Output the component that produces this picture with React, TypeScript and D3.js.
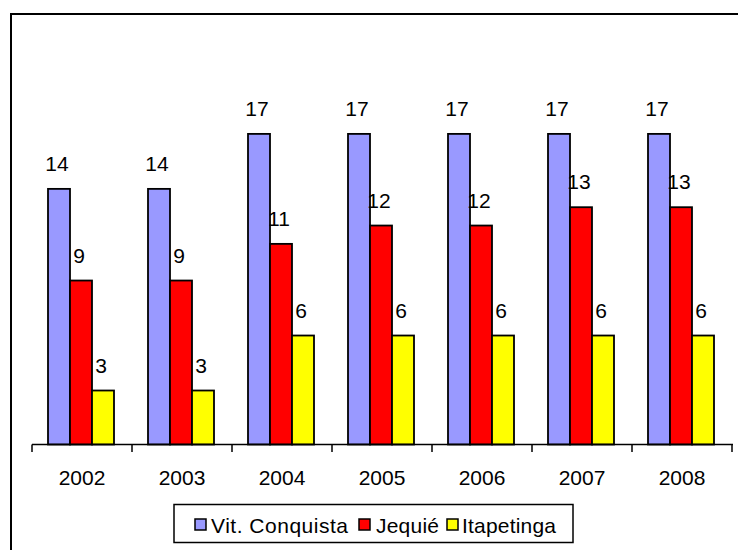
import React from "react";
import * as d3 from "d3";

const years = ["2002", "2003", "2004", "2005", "2006", "2007", "2008"];
const seriesNames = ["Vit. Conquista", "Jequié", "Itapetinga"];
const vitConquista = [14, 14, 17, 17, 17, 17, 17];
const jequie = [9, 9, 11, 12, 12, 13, 13];
const itapetinga = [3, 3, 6, 6, 6, 6, 6];
const colors = ["#9999FF", "#FF0000", "#FFFF00"];

const W = 738;
const H = 550;
const FONT = "'Liberation Sans', Arial, sans-serif";

export default function App() {
  const series = [vitConquista, jequie, itapetinga];
  const x0 = d3.scaleBand<string>().domain(years).range([32, 732]).paddingInner(0.34).paddingOuter(0.17);
  const x1 = d3.scaleBand<number>().domain([0, 1, 2]).range([0, x0.bandwidth()]);
  const y = d3.scaleLinear().domain([0, 20]).range([445.5, 78.9]);
  const axisY = 444.5;
  const legendItems = [
    { sx: 195, tx: 211, len: 137 },
    { sx: 359, tx: 376, len: 63 },
    { sx: 447, tx: 462, len: 94 },
  ];
  return (
    <svg width={W} height={H} style={{ position: "absolute", left: 0, top: 0, background: "#fff" }}>
      <rect x={0} y={0} width={W} height={H} fill="#fff" />
      <rect x={11} y={14} width={900} height={700} fill="none" stroke="#000" strokeWidth={2} />
      {years.map((yr, i) =>
        series.map((vals, j) => {
          const bx = (x0(yr) as number) - 1 + (x1(j) as number);
          const bw = x1.bandwidth();
          const top = y(vals[i]);
          return (
            <g key={yr + j}>
              <rect x={bx} y={top} width={bw} height={axisY - top} fill={colors[j]} stroke="#000" strokeWidth={1.8} />
              <text x={bx + bw / 2 - 2} y={top - 18} textAnchor="middle" fontFamily={FONT} fontSize={21} fill="#000">
                {vals[i]}
              </text>
            </g>
          );
        })
      )}
      <line x1={32} x2={733} y1={axisY} y2={axisY} stroke="#000" strokeWidth={1.5} />
      {d3.range(years.length + 1).map((k) => {
        const tx = 32 + k * x0.step();
        return <line key={k} x1={tx} x2={tx} y1={axisY} y2={452} stroke="#000" strokeWidth={1.5} />;
      })}
      {years.map((yr) => (
        <text key={yr} x={(x0(yr) as number) - 17 + x0.step() / 2} y={485} textAnchor="middle" fontFamily={FONT} fontSize={21} fill="#000">
          {yr}
        </text>
      ))}
      <rect x={174} y={504.5} width={399} height={38} fill="#fff" stroke="#000" strokeWidth={1.5} />
      {seriesNames.map((name, j) => (
        <g key={name}>
          <rect x={legendItems[j].sx} y={519} width={11} height={11} fill={colors[j]} stroke="#000" strokeWidth={1.5} />
          <text
            x={legendItems[j].tx}
            y={533}
            fontFamily={FONT}
            fontSize={21}
            fill="#000"
            textLength={legendItems[j].len}
            lengthAdjust="spacing"
          >
            {name}
          </text>
        </g>
      ))}
    </svg>
  );
}
